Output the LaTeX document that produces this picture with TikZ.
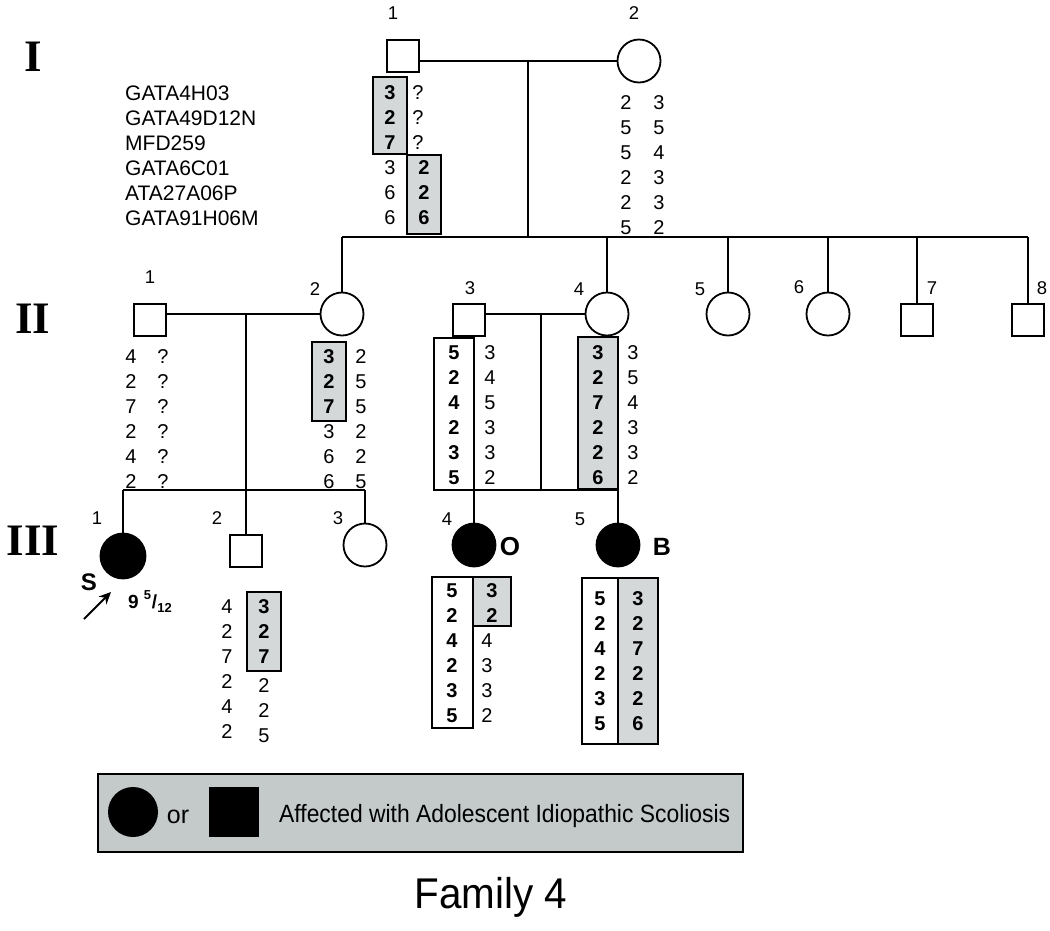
\documentclass[tikz,border=0pt]{standalone}
\usepackage{fontspec}
\usepackage{graphicx}
\setmainfont{Liberation Sans}
\newfontfamily\timesfont{Liberation Serif}
\usetikzlibrary{arrows.meta}
\definecolor{shade}{RGB}{212,216,216}
\definecolor{legendgray}{RGB}{196,202,202}
\newcommand\gencol[5]{%
  \foreach \v [count=\k from 0] in {#5} \node[#1] (#4\k) at (#2,{#3+25*\k}) {\v};}
\begin{document}
\begin{tikzpicture}[x=1pt,y=-1pt,
  ln/.style={line width=1.6pt},
  male/.style={draw,rectangle,line width=1.8pt,minimum size=32pt,inner sep=0pt},
  female/.style={draw,circle,line width=1.8pt,minimum size=43pt,inner sep=0pt},
  aff/.style={fill=black},
  gt/.style={font=\fontsize{20}{20}\selectfont,inner sep=0pt},
  gtb/.style={font=\fontsize{20}{20}\selectfont\bfseries,inner sep=0pt},
  lab/.style={font=\fontsize{18.5}{18}\selectfont,inner sep=0pt},
  gen/.style={font=\fontsize{45}{45}\selectfont\timesfont\bfseries,inner sep=0pt},
  mk/.style={font=\fontsize{21}{22}\selectfont,inner sep=0pt,anchor=west},
  shadebox/.style={draw,line width=1.6pt,fill=shade},
  whitebox/.style={draw,line width=1.6pt,fill=white},
]
\useasboundingbox[fill=white] (0,0) rectangle (1050,930);

% generation labels
\node[gen] (gI) at (33,57) {I};
\node[gen] (gII) at (33,319) {II};
\node[gen] (gIII) at (33,541) {III};

% marker names
\foreach \m [count=\k from 0] in {GATA4H03,GATA49D12N,MFD259,GATA6C01,ATA27A06P,GATA91H06M}
  \node[mk] (mk\k) at (125,{93+25*\k}) {\m};

% individuals
\node[male] (I1) at (403,56) {};
\node[female] (I2) at (639,61) {};
\node[male] (II1) at (150,320) {};
\node[female] (II2) at (342,314) {};
\node[male] (II3) at (469,320) {};
\node[female] (II4) at (607,314) {};
\node[female] (II5) at (728,314) {};
\node[female] (II6) at (828,314) {};
\node[male] (II7) at (917,320) {};
\node[male] (II8) at (1028,320) {};
\node[female,aff,minimum size=45pt] (III1) at (123,556) {};
\node[male] (III2) at (246,551) {};
\node[female] (III3) at (365,545) {};
\node[female,aff] (III4) at (474,545) {};
\node[female,aff] (III5) at (618,545) {};

% individual numbers
\node[lab] (nI1) at (393,13) {1};
\node[lab] (nI2) at (634,13) {2};
\node[lab] (nII1) at (150,277) {1};
\node[lab] (nII2) at (315,289) {2};
\node[lab] (nII3) at (470,288) {3};
\node[lab] (nII4) at (579,289) {4};
\node[lab] (nII5) at (700,289) {5};
\node[lab] (nII6) at (799,287) {6};
\node[lab] (nII7) at (932,288) {7};
\node[lab] (nII8) at (1042,288) {8};
\node[lab] (nIII1) at (97,518) {1};
\node[lab] (nIII2) at (217,518) {2};
\node[lab] (nIII3) at (338,518) {3};
\node[lab] (nIII4) at (447,519) {4};
\node[lab] (nIII5) at (580,519) {5};

% haplotype boxes
\draw[shadebox] (373,77) rectangle (407,154);
\draw[shadebox] (407,155) rectangle (441,234);
\draw[shadebox] (312,342) rectangle (346,421);
\draw[whitebox] (434,338) rectangle (474,490);
\draw[shadebox] (578,337) rectangle (618,489);
\draw[shadebox] (247,592) rectangle (281,671);
\draw[whitebox] (432,577) rectangle (473,728);
\draw[shadebox] (473,577) rectangle (511,626);
\draw[whitebox] (582,578) rectangle (618,744);
\draw[shadebox] (618,578) rectangle (658,744);

% connectors generation I
\draw[ln] (I1.east|-I2.west) -- (I2.west);
\coordinate (mI) at (528,61);
\coordinate (sI) at (528,237);
\draw[ln] (mI) -- (sI);
\draw[ln] (II2|-sI) -- (II8|-sI);
\foreach \n in {II2,II4,II5,II6,II7,II8} \draw[ln] (\n|-sI) -- (\n);

% connectors II-1 x II-2
\draw[ln] (II1.east|-II2.west) -- (II2.west);
\coordinate (mII) at (246,314);
\coordinate (sII) at (246,490);
\draw[ln] (mII) -- (III2);
\draw[ln] (III1|-sII) -- (III3|-sII);
\draw[ln] (III1|-sII) -- (III1);
\draw[ln] (III3|-sII) -- (III3);

% connectors II-3 x II-4
\draw[ln] (II3.east|-II4.west) -- (II4.west);
\coordinate (mIII) at (541,314);
\coordinate (sIII) at (541,490);
\draw[ln] (mIII) -- (sIII);
\draw[ln] (III4|-sIII) -- (III5|-sIII);
\draw[ln] (III4|-sIII) -- (III4);
\draw[ln] (III5|-sIII) -- (III5);

% genotypes
\gencol{gtb}{390}{93}{iAa}{3,2,7}
\gencol{gt}{418}{93}{iAb}{?,?,?}
\gencol{gt}{390}{168}{iAc}{3,6,6}
\gencol{gtb}{424}{168}{iAd}{2,2,6}
\gencol{gt}{626}{103}{iBa}{2,5,5,2,2,5}
\gencol{gt}{659}{103}{iBb}{3,5,4,3,3,2}
\gencol{gt}{131}{357}{iiAa}{4,2,7,2,4,2}
\gencol{gt}{163}{357}{iiAb}{?,?,?,?,?,?}
\gencol{gtb}{329}{357}{iiBa}{3,2,7}
\gencol{gt}{329}{432}{iiBc}{3,6,6}
\gencol{gt}{361}{357}{iiBb}{2,5,5,2,2,5}
\gencol{gtb}{454}{353}{iiCa}{5,2,4,2,3,5}
\gencol{gt}{490}{353}{iiCb}{3,4,5,3,3,2}
\gencol{gtb}{598}{353}{iiDa}{3,2,7,2,2,6}
\gencol{gt}{633}{353}{iiDb}{3,5,4,3,3,2}
\gencol{gt}{227}{607}{iiiBa}{4,2,7,2,4,2}
\gencol{gtb}{264}{607}{iiiBb}{3,2,7}
\gencol{gt}{264}{686}{iiiBc}{2,2,5}
\gencol{gtb}{452}{591}{iiiDa}{5,2,4,2,3,5}
\gencol{gtb}{492}{591}{iiiDb}{3,2}
\gencol{gt}{487}{641}{iiiDc}{4,3,3,2}
\gencol{gtb}{600}{599}{iiiEa}{5,2,4,2,3,5}
\gencol{gtb}{638}{599}{iiiEb}{3,2,7,2,2,6}

% proband, age, O and B
\node[font=\fontsize{24}{24}\selectfont\bfseries,inner sep=0pt] (S) at (89,582) {S};
\coordinate (arrS) at (84,619);
\coordinate (arrE) at (111,592);
\draw[line width=1.9pt,-{Stealth[length=12pt,width=11pt]}] (arrS) -- (arrE);
\node[anchor=base west,inner sep=0pt,font=\fontsize{19}{19}\selectfont\bfseries] (age) at (128,608)
  {9\hspace{5pt}\raisebox{9pt}{\fontsize{13}{13}\selectfont 5}\hspace{1pt}/\raisebox{-4pt}{\fontsize{13}{13}\selectfont 12}};
\node[font=\fontsize{26}{26}\selectfont\bfseries,inner sep=0pt] (O) at (510,547) {O};
\node[font=\fontsize{25}{25}\selectfont\bfseries,inner sep=0pt] (B) at (662,547) {B};

% legend
\node[draw,line width=1.6pt,fill=legendgray,minimum width=645pt,minimum height=78pt,inner sep=0pt,anchor=north west] (legend) at (97,773) {};
\node[circle,fill=black,minimum size=50pt,inner sep=0pt] (legC) at (133,812) {};
\node[font=\fontsize{25}{25}\selectfont,anchor=base,inner sep=0pt] (legor) at (178,823) {or};
\node[fill=black,minimum size=50pt,inner sep=0pt] (legS) at (234,812) {};
\node[font=\fontsize{25}{25}\selectfont,anchor=base west,inner sep=0pt] (legT) at (279,822)
  {\scalebox{0.915}[1]{Affected with Adolescent Idiopathic Scoliosis}};

% title
\node[anchor=base,inner sep=0pt,font=\fontsize{43}{43}\selectfont] (title) at (491,908) {\scalebox{0.94}[1]{Family 4}};
\end{tikzpicture}
\end{document}
